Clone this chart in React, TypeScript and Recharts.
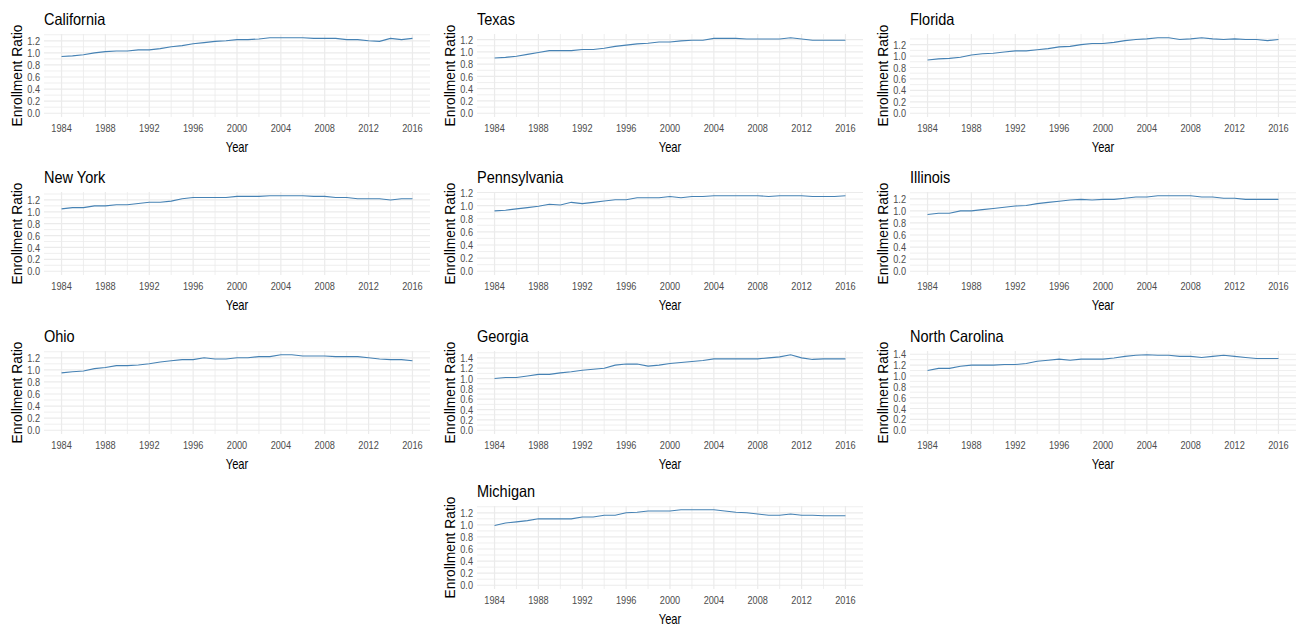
import { CartesianGrid, Line, LineChart, XAxis, YAxis } from "recharts";

const YEARS = [
  1984, 1985, 1986, 1987, 1988, 1989, 1990, 1991, 1992, 1993, 1994, 1995, 1996, 1997, 1998, 1999, 2000,
  2001, 2002, 2003, 2004, 2005, 2006, 2007, 2008, 2009, 2010, 2011, 2012, 2013, 2014, 2015, 2016,
];
const YEAR_TICKS = [1984, 1988, 1992, 1996, 2000, 2004, 2008, 2012, 2016];
const YEAR_MINOR = [1986, 1990, 1994, 1998, 2002, 2006, 2010, 2014];

const CALIFORNIA = [
  0.94, 0.95, 0.97, 1.0, 1.02, 1.03, 1.03, 1.05, 1.05, 1.07, 1.1, 1.12, 1.15, 1.17, 1.19, 1.2, 1.22,
  1.22, 1.23, 1.25, 1.25, 1.25, 1.25, 1.24, 1.24, 1.24, 1.22, 1.22, 1.2, 1.19, 1.24, 1.22, 1.24,
];
const TEXAS = [
  0.9, 0.91, 0.93, 0.96, 0.99, 1.02, 1.02, 1.02, 1.04, 1.04, 1.06, 1.09, 1.11, 1.13, 1.14, 1.16, 1.16,
  1.18, 1.19, 1.19, 1.22, 1.22, 1.22, 1.21, 1.21, 1.21, 1.21, 1.23, 1.21, 1.19, 1.19, 1.19, 1.19,
];
const FLORIDA = [
  0.93, 0.95, 0.96, 0.98, 1.02, 1.04, 1.05, 1.07, 1.09, 1.09, 1.11, 1.13, 1.16, 1.17, 1.2, 1.22, 1.22,
  1.24, 1.27, 1.29, 1.3, 1.32, 1.32, 1.29, 1.3, 1.32, 1.3, 1.29, 1.3, 1.29, 1.29, 1.27, 1.29,
];
const NEW_YORK = [
  1.05, 1.07, 1.07, 1.1, 1.1, 1.12, 1.12, 1.14, 1.16, 1.16, 1.18, 1.22, 1.24, 1.24, 1.24, 1.24, 1.26,
  1.26, 1.26, 1.27, 1.27, 1.27, 1.27, 1.26, 1.26, 1.24, 1.24, 1.22, 1.22, 1.22, 1.2, 1.22, 1.22,
];
const PENNSYLVANIA = [
  0.92, 0.93, 0.95, 0.97, 0.99, 1.02, 1.01, 1.05, 1.03, 1.05, 1.07, 1.09, 1.09, 1.12, 1.12, 1.12, 1.14,
  1.12, 1.14, 1.14, 1.15, 1.15, 1.15, 1.15, 1.15, 1.14, 1.15, 1.15, 1.15, 1.14, 1.14, 1.14, 1.15,
];
const ILLINOIS = [
  0.94, 0.96, 0.96, 1.0, 1.0, 1.02, 1.04, 1.06, 1.08, 1.09, 1.12, 1.14, 1.16, 1.18, 1.19, 1.18, 1.19,
  1.19, 1.21, 1.23, 1.23, 1.25, 1.25, 1.25, 1.25, 1.23, 1.23, 1.21, 1.21, 1.19, 1.19, 1.19, 1.19,
];
const OHIO = [
  0.95, 0.97, 0.98, 1.02, 1.04, 1.07, 1.07, 1.08, 1.1, 1.13, 1.15, 1.17, 1.17, 1.2, 1.18, 1.18, 1.2,
  1.2, 1.22, 1.22, 1.25, 1.25, 1.23, 1.23, 1.23, 1.22, 1.22, 1.22, 1.2, 1.18, 1.17, 1.17, 1.15,
];
const GEORGIA = [
  1.0, 1.02, 1.02, 1.05, 1.08, 1.08, 1.11, 1.13, 1.16, 1.18, 1.2, 1.26, 1.28, 1.28, 1.24, 1.26, 1.29,
  1.31, 1.33, 1.35, 1.38, 1.38, 1.38, 1.38, 1.38, 1.4, 1.42, 1.46, 1.4, 1.37, 1.38, 1.38, 1.38,
];
const NORTH_CAROLINA = [
  1.1, 1.14, 1.14, 1.18, 1.2, 1.2, 1.2, 1.21, 1.21, 1.23, 1.27, 1.29, 1.31, 1.29, 1.31, 1.31, 1.31,
  1.33, 1.36, 1.38, 1.39, 1.38, 1.38, 1.36, 1.36, 1.34, 1.36, 1.38, 1.36, 1.34, 1.32, 1.32, 1.32,
];
const MICHIGAN = [
  0.99, 1.03, 1.05, 1.07, 1.1, 1.1, 1.1, 1.1, 1.13, 1.13, 1.16, 1.16, 1.2, 1.21, 1.23, 1.23, 1.23,
  1.25, 1.25, 1.25, 1.25, 1.23, 1.21, 1.2, 1.18, 1.16, 1.16, 1.18, 1.16, 1.16, 1.15, 1.15, 1.15,
];

const STATES = [
  { name: "California", values: CALIFORNIA },
  { name: "Texas", values: TEXAS },
  { name: "Florida", values: FLORIDA },
  { name: "New York", values: NEW_YORK },
  { name: "Pennsylvania", values: PENNSYLVANIA },
  { name: "Illinois", values: ILLINOIS },
  { name: "Ohio", values: OHIO },
  { name: "Georgia", values: GEORGIA },
  { name: "North Carolina", values: NORTH_CAROLINA },
  { name: "Michigan", values: MICHIGAN },
];

const FONT = '"Liberation Sans", Arial, sans-serif';
const GRID = "#ebebeb";
const LINE = "#4682b4";
const TICK_COLOR = "#4d4d4d";
const SQUEEZE = 0.8; // horizontal text squeeze
const PANEL_W = 433;
const PANEL_H = 158;
// facet slots: left, top
const SLOTS = [
  [0, 0], [433, 0], [866, 0],
  [0, 158.3], [433, 158.3], [866, 158.3],
  [0, 316.6], [433, 316.6], [866, 316.6],
  [433, 471.5],
];

function XTick(props: any) {
  const { x, y, payload } = props;
  return (
    <text
      transform={`translate(${x},${y}) scale(${SQUEEZE},1)`}
      textAnchor="middle"
      dy="0.71em"
      fontFamily={FONT}
      fontSize={11.5}
      fill={TICK_COLOR}
    >
      {payload.value}
    </text>
  );
}

function YTick(props: any) {
  const { x, y, payload } = props;
  return (
    <text
      transform={`translate(${x},${y}) scale(${SQUEEZE},1)`}
      textAnchor="end"
      dy="0.355em"
      fontFamily={FONT}
      fontSize={11.5}
      fill={TICK_COLOR}
    >
      {Number(payload.value).toFixed(1)}
    </text>
  );
}

function StatePanel({ name, values, left, top }: { name: string; values: number[]; left: number; top: number }) {
  const data = YEARS.map((year, i) => ({ year, ratio: values[i] }));
  // y runs from 0 to the panel max, padded 5% each side
  const max = Math.max(...values);
  const lo = -0.05 * max;
  const hi = 1.05 * max;
  const yTicks: number[] = [];
  const yMinor: number[] = [];
  for (let i = 0; i * 0.1 <= hi + 1e-9; i++) {
    const v = i / 10;
    if (i % 2 === 0) yTicks.push(v);
    else yMinor.push(v);
  }

  return (
    <div style={{ position: "absolute", left, top, width: PANEL_W, height: PANEL_H }}>
      <div
        style={{
          position: "absolute",
          left: 44,
          top: 11,
          fontFamily: FONT,
          fontSize: 16.5,
          lineHeight: "16px",
          color: "#000",
          whiteSpace: "nowrap",
          transform: "scaleX(0.88)",
          transformOrigin: "left center",
        }}
      >
        {name}
      </div>
      <LineChart width={PANEL_W} height={PANEL_H} data={data} margin={{ top: 34, right: 3, bottom: 0, left: 0 }}>
        <CartesianGrid stroke={GRID} strokeWidth={0.8} horizontalValues={yMinor} verticalValues={YEAR_MINOR} />
        <CartesianGrid stroke={GRID} strokeWidth={1.2} horizontalValues={yTicks} verticalValues={YEAR_TICKS} />
        <XAxis
          dataKey="year"
          type="number"
          domain={[1982.4, 2017.6]}
          ticks={YEAR_TICKS}
          allowDataOverflow
          axisLine={false}
          tickLine={false}
          tickSize={0}
          tickMargin={7}
          height={41}
          interval={0}
          tick={XTick}
          label={(p: any) => {
            const x = p.viewBox.x + p.viewBox.width / 2;
            const y = p.viewBox.y + 35;
            return (
              <text
                transform={`translate(${x},${y}) scale(${SQUEEZE},1)`}
                textAnchor="middle"
                fontFamily={FONT}
                fontSize={14}
                fill="#000"
              >
                Year
              </text>
            );
          }}
        />
        <YAxis
          type="number"
          domain={[lo, hi]}
          ticks={yTicks}
          allowDataOverflow
          axisLine={false}
          tickLine={false}
          tickSize={0}
          tickMargin={4}
          width={44}
          interval={0}
          tick={YTick}
          label={(p: any) => {
            const x = p.viewBox.x + 21.5;
            const y = p.viewBox.y + p.viewBox.height / 2;
            return (
              <text
                x={x}
                y={y}
                transform={`rotate(-90, ${x}, ${y})`}
                textAnchor="middle"
                fontFamily={FONT}
                fontSize={13.8}
                fill="#000"
              >
                Enrollment Ratio
              </text>
            );
          }}
        />
        <Line type="linear" dataKey="ratio" stroke={LINE} strokeWidth={1.1} dot={false} isAnimationActive={false} />
      </LineChart>
    </div>
  );
}

export default function App() {
  return (
    <div
      style={{
        position: "absolute",
        left: 0,
        top: 0,
        width: 1301,
        height: 627,
        overflow: "hidden",
        background: "#fff",
      }}
    >
      {STATES.map((s, i) => (
        <StatePanel key={s.name} name={s.name} values={s.values} left={SLOTS[i][0]} top={SLOTS[i][1]} />
      ))}
    </div>
  );
}
